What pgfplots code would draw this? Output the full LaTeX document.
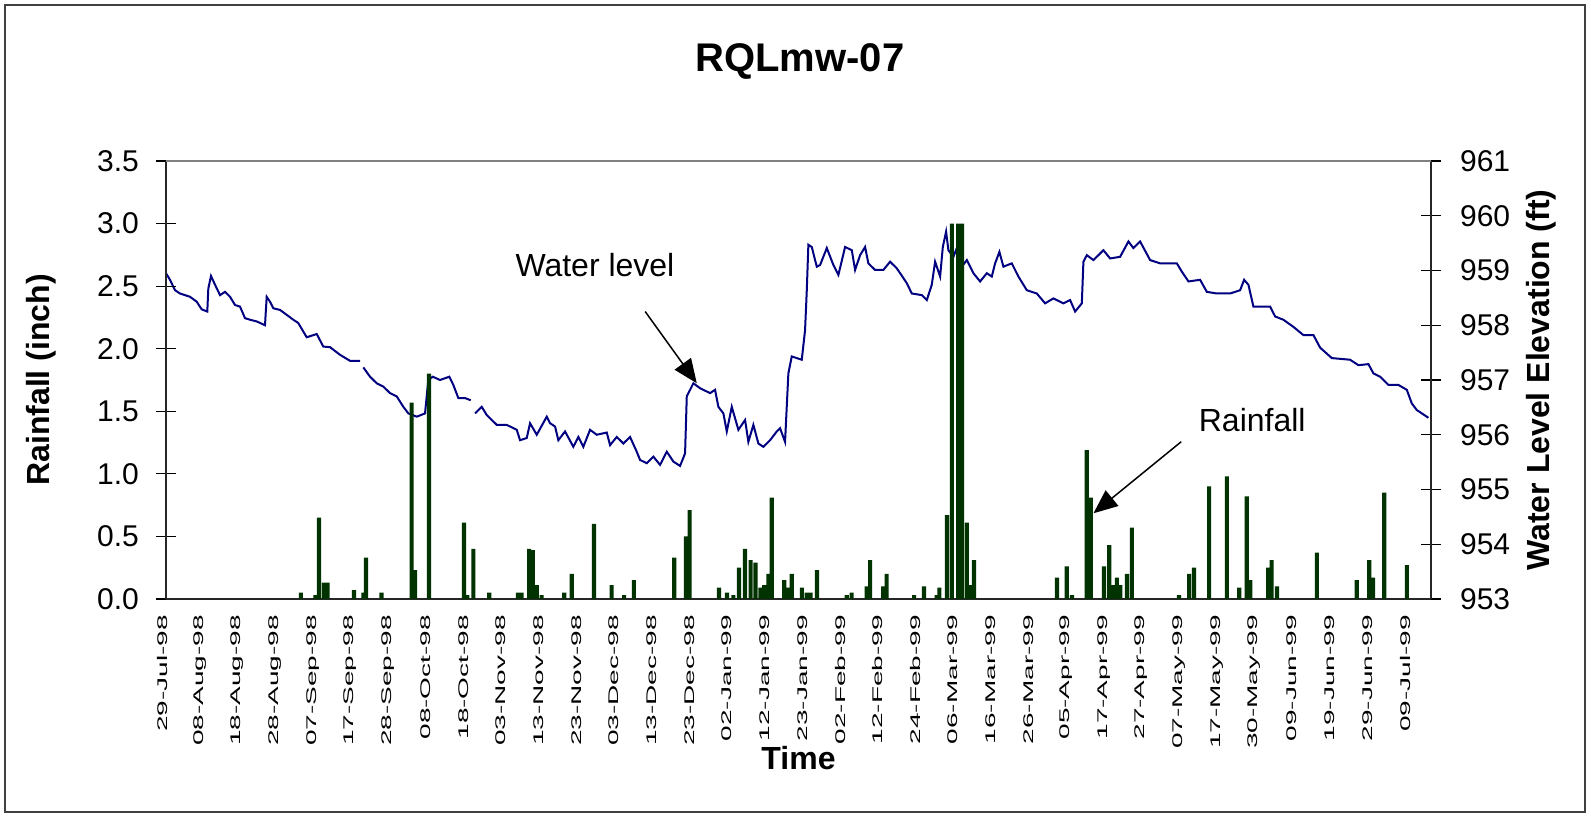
\documentclass[border=0pt]{standalone}
\usepackage{fontspec}
\setmainfont{Liberation Sans}
\usepackage{pgfplots}
\pgfplotsset{compat=1.18}
\usetikzlibrary{arrows.meta}
\definecolor{wl}{RGB}{0,0,128}
\definecolor{rain}{RGB}{0,51,0}
\newcommand{\dl}[1]{\scalebox{2}[1]{#1}}

\pgfplotsset{
  base/.style={
    scale only axis, width=632.5pt, height=219pt,
    at={(83pt,111.5pt)}, anchor=south west,
    xmin=0, xmax=335.8, clip=false,
    tick align=center, major tick length=10pt,
    every tick/.style={black, line width=0.6pt},
    axis line style={black!85, line width=0.75pt},
    ticklabel style={font=\fontsize{15}{18}\selectfont},
    /pgf/number format/assume math mode=true,
    label style={font=\bfseries\fontsize{16}{19}\selectfont},
  }
}

\begin{document}
\begin{tikzpicture}
\path[use as bounding box] (0,0) rectangle (795.5pt,411pt);
\draw[black!75, line width=0.6pt] (2.5pt,5pt) rectangle (792.5pt,408.5pt);
\node[anchor=base, font=\bfseries\fontsize{20}{24}\selectfont] at (400pt,375.2pt) {RQLmw-07};

% water level, right axis
\begin{axis}[base,
  axis x line=none, axis y line*=right,
  ymin=953, ymax=961, ytick={953,954,...,961},
  yticklabel style={xshift=6pt},
  ylabel={Water Level Elevation (ft)},
  ylabel style={at={(axis description cs:1.087,0.5)}, anchor=center},
  unbounded coords=jump]
\addplot[wl, line width=1pt] coordinates {
(0,958.95)(1.06,958.83)(2.39,958.64)(3.72,958.58)(6.37,958.52)(8.15,958.43)(9.48,958.29)(10.96,958.25)
(11.23,958.67)(11.95,958.90)(13.01,958.74)(14.34,958.55)(15.66,958.61)(16.99,958.52)(18.32,958.37)
(19.65,958.34)(20.97,958.13)(22.30,958.10)(24.08,958.07)(26.28,958.00)(26.73,958.52)(27.61,958.43)
(28.49,958.31)(30.27,958.28)(32.04,958.19)(33.80,958.10)(35.12,958.04)(37.35,957.78)(40.01,957.84)
(41.76,957.61)(43.54,957.60)(46.19,957.46)(48.85,957.35)(51.50,957.35)(51.9,nan)
(52.38,957.23)(54.16,957.06)(55.94,956.94)(57.69,956.88)(59.47,956.76)(61.25,956.70)(63.00,956.51)
(64.33,956.39)(66.56,956.33)(68.76,956.39)(69.64,957.00)(70.81,957.06)(72.74,957.00)(75.21,957.06)
(76.27,956.91)(77.60,956.67)(79.38,956.67)(80.89,956.63)(81.5,nan)
(82.03,956.39)(83.81,956.51)(85.14,956.36)(87.80,956.18)(90.45,956.18)(93.11,956.09)(93.98,955.90)
(95.76,955.94)(96.64,956.21)(98.42,956.00)(101.07,956.33)(101.95,956.21)(103.28,956.15)(104.15,955.90)
(105.93,956.06)(108.13,955.78)(109.46,955.96)(110.79,955.78)(112.56,956.09)(114.34,956.00)(117.00,956.04)
(117.88,955.81)(119.65,955.96)(121.41,955.84)(123.18,955.96)(124.96,955.69)(125.84,955.54)(127.62,955.48)
(129.37,955.60)(131.15,955.45)(132.93,955.69)(134.68,955.51)(136.46,955.43)(137.79,955.66)(138.24,956.70)
(139.99,956.94)(141.77,956.85)(144.42,956.76)(145.75,956.82)(146.63,956.51)(147.96,956.39)(148.86,956.06)
(150.19,956.51)(151.94,956.09)(153.72,956.27)(154.59,955.87)(155.92,956.18)(157.25,955.84)(158.57,955.78)
(160.35,955.90)(162.13,956.06)(163.00,956.12)(164.33,955.87)(165.21,957.12)(166.11,957.43)(168.77,957.37)
(169.64,957.91)(170.10,958.64)(170.52,959.47)(171.42,959.43)(172.75,959.07)(173.63,959.10)(175.41,959.41)
(177.16,959.10)(178.49,958.92)(180.27,959.43)(182.05,959.37)(182.92,959.01)(184.25,959.28)(185.58,959.43)
(186.45,959.13)(188.23,959.01)(190.43,959.01)(192.21,959.16)(193.99,959.04)(196.64,958.77)(197.97,958.58)
(200.63,958.55)(201.96,958.46)(203.28,958.74)(204.16,959.16)(205.49,958.89)(206.21,959.43)(207.08,959.71)
(207.69,959.37)(209.02,959.25)(209.92,959.41)(211.25,959.07)(212.58,959.19)(214.33,958.95)(216.11,958.80)
(217.89,958.95)(219.21,958.89)(220.09,959.13)(221.23,959.34)(222.29,959.07)(224.52,959.13)(226.27,958.89)
(228.50,958.64)(231.16,958.58)(233.36,958.40)(235.56,958.49)(238.22,958.40)(240.00,958.46)(241.33,958.25)
(243.11,958.40)(243.53,959.16)(244.43,959.28)(246.19,959.19)(248.84,959.37)(250.62,959.22)(253.27,959.25)
(255.48,959.53)(256.80,959.41)(258.58,959.53)(261.24,959.19)(263.89,959.13)(268.33,959.13)(269.65,958.98)
(271.41,958.80)(274.51,958.83)(276.29,958.61)(278.94,958.58)(282.48,958.58)(285.13,958.64)(286.19,958.83)
(287.33,958.74)(288.66,958.34)(291.31,958.34)(293.09,958.34)(294.42,958.16)(296.62,958.10)(299.28,957.97)
(301.93,957.82)(304.59,957.82)(306.37,957.59)(309.47,957.40)(314.33,957.37)(316.53,957.27)(319.19,957.29)
(320.52,957.12)(322.29,957.06)(324.50,956.91)(327.15,956.91)(329.38,956.82)(330.71,956.57)(332.04,956.45)
(335.12,956.31)
};
\end{axis}

% rainfall, left axis
\begin{axis}[base,
  axis x line*=bottom, axis y line*=left,
  ymin=0, ymax=3.5, ytick={0,0.5,...,3.5},
  yticklabel style={xshift=-5pt, /pgf/number format/.cd, fixed, fixed zerofill, precision=1},
  xtick={0,10,...,330},
  x tick style={draw=none},
  xticklabels={\dl{29-Jul-98},\dl{08-Aug-98},\dl{18-Aug-98},\dl{28-Aug-98},\dl{07-Sep-98},\dl{17-Sep-98},
    \dl{28-Sep-98},\dl{08-Oct-98},\dl{18-Oct-98},\dl{03-Nov-98},\dl{13-Nov-98},\dl{23-Nov-98},
    \dl{03-Dec-98},\dl{13-Dec-98},\dl{23-Dec-98},\dl{02-Jan-99},\dl{12-Jan-99},\dl{23-Jan-99},
    \dl{02-Feb-99},\dl{12-Feb-99},\dl{24-Feb-99},\dl{06-Mar-99},\dl{16-Mar-99},\dl{26-Mar-99},
    \dl{05-Apr-99},\dl{17-Apr-99},\dl{27-Apr-99},\dl{07-May-99},\dl{17-May-99},\dl{30-May-99},
    \dl{09-Jun-99},\dl{19-Jun-99},\dl{29-Jun-99},\dl{09-Jul-99}},
  xticklabel style={font=\fontsize{7}{8}\selectfont, xshift=-2pt, yshift=0.5pt, rotate=90, anchor=east},
  xlabel={Time},
  xlabel style={at={(axis description cs:0.5,-0.363)}, anchor=center},
  ylabel={Rainfall (inch)},
  ylabel style={at={(axis description cs:-0.0988,0.5)}, anchor=center}]
\draw[gray, line width=0.75pt] (rel axis cs:0,1) -- (rel axis cs:1,1);
\addplot[ybar, bar width=1.1, fill=rain, draw=none] coordinates {
(35.8,0.05)(39.7,0.03)(40.6,0.65)(41.9,0.13)(42.9,0.13)(49.9,0.07)(52.4,0.05)(53.1,0.33)(57.2,0.05)
(65.2,1.57)(66.1,0.23)(69.8,1.80)(79.1,0.61)(80.0,0.03)(81.6,0.40)(85.8,0.05)(93.4,0.05)(94.4,0.05)
(96.4,0.40)(97.4,0.39)(98.4,0.11)(99.7,0.03)(105.7,0.05)(107.7,0.20)(113.6,0.60)(118.3,0.11)(121.6,0.03)
(124.2,0.15)(134.9,0.33)(138.0,0.50)(139.0,0.71)(146.8,0.09)(148.9,0.05)(150.6,0.03)(152.1,0.25)
(153.7,0.40)(155.2,0.31)(156.5,0.29)(157.8,0.09)(158.8,0.11)(159.9,0.20)(160.8,0.81)(164.1,0.15)
(165.0,0.09)(166.1,0.20)(168.8,0.09)(170.1,0.05)(171.1,0.05)(172.8,0.23)(180.7,0.03)(182.0,0.05)
(186.0,0.10)(186.9,0.31)(190.4,0.10)(191.3,0.20)(198.6,0.03)(201.2,0.10)(204.6,0.03)(205.3,0.09)
(207.3,0.67)(208.6,3.00)(210.3,3.00)(211.3,3.00)(212.6,0.61)(213.5,0.11)(214.5,0.31)(236.5,0.17)
(239.1,0.26)(240.5,0.03)(244.4,1.19)(245.5,0.81)(249.0,0.26)(250.4,0.43)(251.4,0.11)(252.4,0.17)
(253.3,0.11)(255.1,0.20)(256.4,0.57)(268.9,0.03)(271.6,0.20)(272.9,0.25)(276.9,0.90)(281.6,0.98)
(284.9,0.09)(286.9,0.82)(287.8,0.15)(292.6,0.25)(293.5,0.31)(294.9,0.10)(305.5,0.37)(316.1,0.15)
(319.4,0.31)(320.4,0.17)(323.4,0.85)(329.4,0.27)
};
\node[anchor=base west, font=\fontsize{16}{19}\selectfont] at (axis cs:90.9,2.576) {Water level};
\draw[-{Triangle[length=12pt,width=10pt]}, line width=0.75pt] (axis cs:127.2,2.297) -- (axis cs:140.9,1.724);
\node[anchor=base west, font=\fontsize{16}{19}\selectfont] at (axis cs:272.3,1.337) {Rainfall};
\draw[-{Triangle[length=12pt,width=10pt]}, line width=0.75pt] (axis cs:269.5,1.257) -- (axis cs:246.2,0.685);
\end{axis}
\end{tikzpicture}
\end{document}
